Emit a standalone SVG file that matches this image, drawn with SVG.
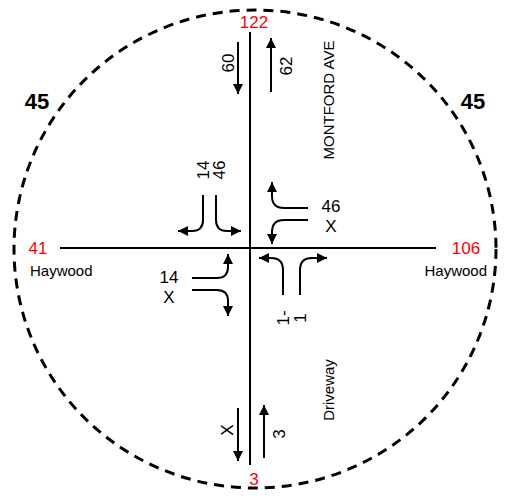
<svg xmlns="http://www.w3.org/2000/svg" width="508" height="498" viewBox="0 0 508 498">
<defs>
<marker id="ah" markerUnits="userSpaceOnUse" markerWidth="10" markerHeight="10" refX="10" refY="5" orient="auto"><path d="M0,0 L10,5 L0,10 z" fill="#000"/></marker>
<style>
.road{stroke:#000;stroke-width:2;fill:none}
.arr{stroke:#000;stroke-width:2;fill:none;marker-end:url(#ah)}
text{font-family:"Liberation Sans",Arial,sans-serif;font-size:17px;fill:#000}
.red{fill:#f00;font-size:17px}
.big{font-weight:bold;font-size:22px}
.sm{font-size:15px}
</style>
</defs>
<rect width="508" height="498" fill="#fff"/>
<g id="boundary"><ellipse cx="255" cy="249" rx="241" ry="239" fill="none" stroke="#000" stroke-width="3" stroke-dasharray="10,7"/></g>
<g id="roads">
<line class="road" x1="250" y1="32" x2="250" y2="465"/>
<line class="road" x1="60" y1="248" x2="436" y2="248"/>
</g>
<g id="connectors">
<line class="arr" x1="238" y1="42" x2="238" y2="94"/>
<line class="arr" x1="271" y1="92" x2="271" y2="38"/>
<line class="arr" x1="238" y1="408" x2="238" y2="461"/>
<line class="arr" x1="264" y1="458" x2="264" y2="405"/>
<path class="arr" d="M203,195 V220 Q203,231 192,231 H178"/>
<path class="arr" d="M216,195 V220 Q216,231 227,231 H241"/>
<path class="arr" d="M308,208 H284 Q272,208 272,196 V182"/>
<path class="arr" d="M308,220 H284 Q272,220 272,232 V244"/>
<path class="arr" d="M192,278 H217 Q228,278 228,267 V254"/>
<path class="arr" d="M192,290 H217 Q228,290 228,301 V316"/>
<path class="arr" d="M283,295 V270 Q283,258 271,258 H259"/>
<path class="arr" d="M300,295 V270 Q300,258 312,258 H327"/>
</g>
<g id="labels">
<text class="red" x="254" y="28" text-anchor="middle">122</text>
<text class="red" x="254" y="485" text-anchor="middle">3</text>
<text class="red" x="38" y="254" text-anchor="middle">41</text>
<text class="red" x="466" y="254" text-anchor="middle">106</text>
<text class="sm" x="30" y="276">Haywood</text>
<text class="sm" x="487" y="276" text-anchor="end">Haywood</text>
<text class="big" x="37" y="109" text-anchor="middle">45</text>
<text class="big" x="473" y="109" text-anchor="middle">45</text>
<text class="sm" transform="translate(334,100) rotate(-90)" text-anchor="middle">MONTFORD AVE</text>
<text class="sm" transform="translate(334,390) rotate(-90)" text-anchor="middle">Driveway</text>
<text transform="translate(234,63) rotate(-90)" text-anchor="middle">60</text>
<text transform="translate(292,66) rotate(-90)" text-anchor="middle">62</text>
<text transform="translate(209,170) rotate(-90)" text-anchor="middle">14</text>
<text transform="translate(225,170) rotate(-90)" text-anchor="middle">46</text>
<text transform="translate(289,318) rotate(-90)" text-anchor="middle">1-</text>
<text transform="translate(306,318) rotate(-90)" text-anchor="middle">1</text>
<text transform="translate(233,430) rotate(-90)" text-anchor="middle">X</text>
<text transform="translate(285,434) rotate(-90)" text-anchor="middle">3</text>
<text x="331" y="212" text-anchor="middle">46</text>
<text x="331" y="232" text-anchor="middle">X</text>
<text x="169" y="283" text-anchor="middle">14</text>
<text x="169" y="303" text-anchor="middle">X</text>
</g>
</svg>
